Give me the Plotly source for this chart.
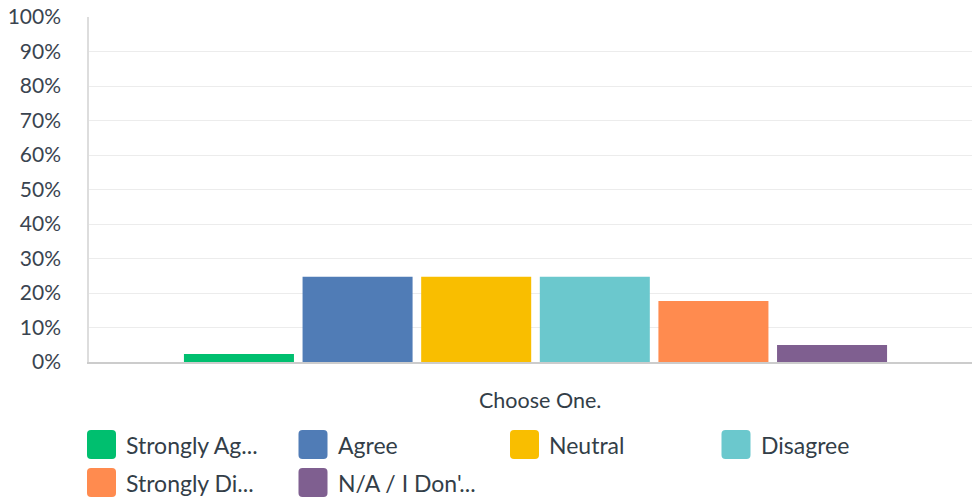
import plotly.graph_objects as go

categories = ["Strongly Agree", "Agree", "Neutral", "Disagree", "Strongly Disagree", "N/A / I Don't Know"]
legend_labels = ["Strongly Ag...", "Agree", "Neutral", "Disagree", "Strongly Di...", "N/A / I Don'..."]
values = [2.35, 24.71, 24.71, 24.71, 17.65, 4.9]
colors = ["#00BF6F", "#507CB6", "#F9BE00", "#6BC8CD", "#FF8B4F", "#7F5F90"]
question = "Choose One."
tick_vals = list(range(0, 101, 10))
tick_text = [f"{v}%" for v in tick_vals]

W, H = 972, 504
ML, MR, MT, MB = 89, 0, 17, 142
PW = W - ML - MR
PH = H - MT - MB
TEXT = "#333e48"
FONT = "Lato"

fig = go.Figure()
for name, v, c in zip(categories, values, colors):
    fig.add_trace(go.Bar(x=[question], y=[v], name=name, marker=dict(color=c, line=dict(width=0)),
                         showlegend=False, hovertemplate="%{y:.2f}%<extra>" + name + "</extra>"))

def px_to_paper_x(px):
    return (px - ML) / PW

def px_to_paper_y(py):
    return (H - MB - py) / PH

# custom legend (rounded swatches + labels), positions in window pixels
shapes = []
annotations = []
col_starts = [87, 298.5, 510, 721.5]
row_centers = [444.5, 482.5]
s = 14.5
r = 4
path = (f"M{-s + r},{-s} L{s - r},{-s} Q{s},{-s} {s},{-s + r} L{s},{s - r} Q{s},{s} {s - r},{s} "
        f"L{-s + r},{s} Q{-s},{s} {-s},{s - r} L{-s},{-s + r} Q{-s},{-s} {-s + r},{-s} Z")
for i, (lab, c) in enumerate(zip(legend_labels, colors)):
    row, col = divmod(i, 4)
    x0 = col_starts[col]
    yc = row_centers[row]
    shapes.append(dict(type="path", xref="paper", yref="paper", xsizemode="pixel", ysizemode="pixel",
                       xanchor=px_to_paper_x(x0 + s), yanchor=px_to_paper_y(yc), path=path,
                       fillcolor=c, line=dict(width=0), layer="above"))
    annotations.append(dict(text=lab, xref="paper", yref="paper", x=px_to_paper_x(x0 + 37),
                            y=px_to_paper_y(yc), xanchor="left", yanchor="middle", showarrow=False,
                            font=dict(family=FONT, size=23, color=TEXT)))

annotations.append(dict(text=question, xref="x", yref="paper", x=0, xshift=4, y=px_to_paper_y(400),
                        xanchor="center", yanchor="middle", showarrow=False,
                        font=dict(family=FONT, size=21.5, color=TEXT)))

fig.update_layout(
    width=W, height=H,
    margin=dict(l=ML, r=MR, t=MT, b=MB, pad=0),
    paper_bgcolor="white", plot_bgcolor="white",
    barmode="group", bargap=0.203, bargroupgap=0.0725,
    font=dict(family=FONT, color=TEXT),
    shapes=shapes, annotations=annotations,
    showlegend=False,
    xaxis=dict(range=[-0.5, 0.4888], showticklabels=False, showgrid=False, zeroline=False,
               showline=True, linecolor="#cccccc", linewidth=2, ticks="", fixedrange=True),
    yaxis=dict(range=[0, 100], tickvals=tick_vals, ticktext=tick_text, showgrid=True,
               gridcolor="#ececec", gridwidth=1.3, zeroline=False, showline=True,
               linecolor="#dddddd", linewidth=1.5, ticks="", ticklabelstandoff=22,
               tickfont=dict(family=FONT, size=21, color="#3a4450"), fixedrange=True),
)

# remove the page's default 8px body margin so the figure sits at the window's top-left corner
fig.write_html("out.html", config={"displayModeBar": False},
               post_script="document.body.style.margin='0';")
